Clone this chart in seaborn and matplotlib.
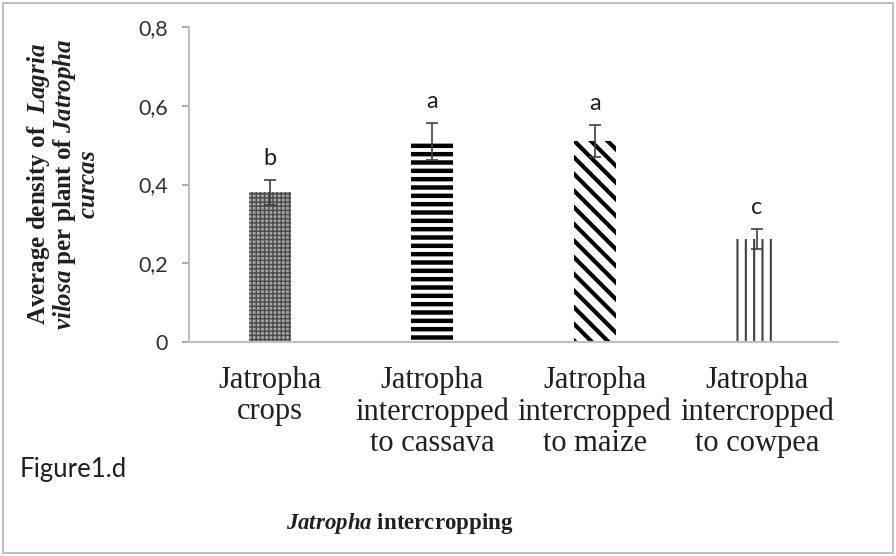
import matplotlib
matplotlib.use("Agg")
import matplotlib.pyplot as plt
import seaborn as sns
import pandas as pd
from matplotlib.patches import Rectangle

categories = ["Jatropha\ncrops", "Jatropha\nintercropped\nto cassava",
              "Jatropha\nintercropped\nto maize", "Jatropha\nintercropped\nto cowpea"]
means = [0.38, 0.508, 0.51, 0.262]
errors = [0.032, 0.047, 0.04, 0.025]
letters = ["b", "a", "a", "c"]
yticks = [0, 0.2, 0.4, 0.6, 0.8]
ytick_labels = ["0", "0,2", "0,4", "0,6", "0,8"]

sns.set_theme(style="white")
plt.rcParams["mathtext.fontset"] = "custom"
plt.rcParams["mathtext.rm"] = "Liberation Serif:bold"
plt.rcParams["mathtext.it"] = "Liberation Serif:italic:bold"
plt.rcParams["mathtext.bf"] = "Liberation Serif:bold"

df = pd.DataFrame({"cat": categories, "val": means})

fig = plt.figure(figsize=(8.96, 5.56), dpi=100)
ax = fig.add_axes([189 / 896, 1 - 342 / 556, (838 - 189) / 896, (342 - 27) / 556])

sns.barplot(data=df, x="cat", y="val", ax=ax, width=0.26, errorbar=None,
            color="white", saturation=1)

styles = [
    dict(fc="#a6a6a6", ec="#4a4a4a", hatch="++++", hlw=1.0),
    dict(fc="white", ec="black", hatch="--", hlw=3.2),
    dict(fc="white", ec="black", hatch="\\\\", hlw=3.0),
    dict(fc="white", ec="#404040", hatch="||", hlw=1.5),
]
for p, st in zip(ax.patches, styles):
    p.set_facecolor(st["fc"])
    p.set_edgecolor(st["ec"])
    p.set_linewidth(0)
    p.set_hatch(st["hatch"])
    try:
        p.set_hatch_linewidth(st["hlw"])
    except AttributeError:
        p._hatch_linewidth = st["hlw"]

xs = range(len(categories))
ax.errorbar(list(xs), means, yerr=errors, fmt="none", ecolor="#404040",
            elinewidth=1.2, capsize=4, capthick=1.2)
for x, m, e, t in zip(xs, means, errors, letters):
    ax.annotate(t, (x, m + e), xytext=(0, 8), textcoords="offset points",
                ha="center", va="bottom", fontsize=17, family="Lato", color="#202020")

ax.set_ylim(0, 0.8)
ax.set_xlim(-0.5, 3.5)
ax.set_yticks(yticks)
ax.set_yticklabels(ytick_labels, family="Lato", fontsize=15.5, color="#303030")
ax.set_xticks(list(xs))
ax.set_xticklabels(categories, family="Liberation Serif", fontsize=22,
                   color="#202020", linespacing=1.12)
ax.tick_params(axis="y", left=True, length=5, color="#a0a0a0", pad=10)
ax.tick_params(axis="x", bottom=False, pad=11)
for s in ["top", "right"]:
    ax.spines[s].set_visible(False)
for s in ["left", "bottom"]:
    ax.spines[s].set_color("#bfbfbf")
    ax.spines[s].set_linewidth(1.5)
ax.set_xlabel("")
ax.set_ylabel(r"Average density of  $\mathit{Lagria}$" "\n"
              r"$\mathit{vilosa}$ per plant of $\mathit{Jatropha}$" "\n"
              r"$\mathit{curcas}$",
              family="Liberation Serif", fontweight="bold", fontsize=18,
              color="#202020", linespacing=0.95)
ax.yaxis.set_label_coords((100 - 189) / 649, 0.5)

fig.text(400 / 896, 1 - 523 / 556, r"$\mathit{Jatropha}$ intercropping",
         family="Liberation Serif", fontweight="bold", fontsize=16.5,
         ha="center", va="center", color="#202020")
fig.text(20 / 896, 1 - 470 / 556, "Figure1.d", family="Lato", fontsize=18.5,
         ha="left", va="center", color="#202020")

fig.patches.append(Rectangle((3 / 896, 3 / 556), 890 / 896, 550 / 556,
                             transform=fig.transFigure, fill=False,
                             edgecolor="#bfbfbf", linewidth=1.5))

fig.savefig("out.png", dpi=100)
